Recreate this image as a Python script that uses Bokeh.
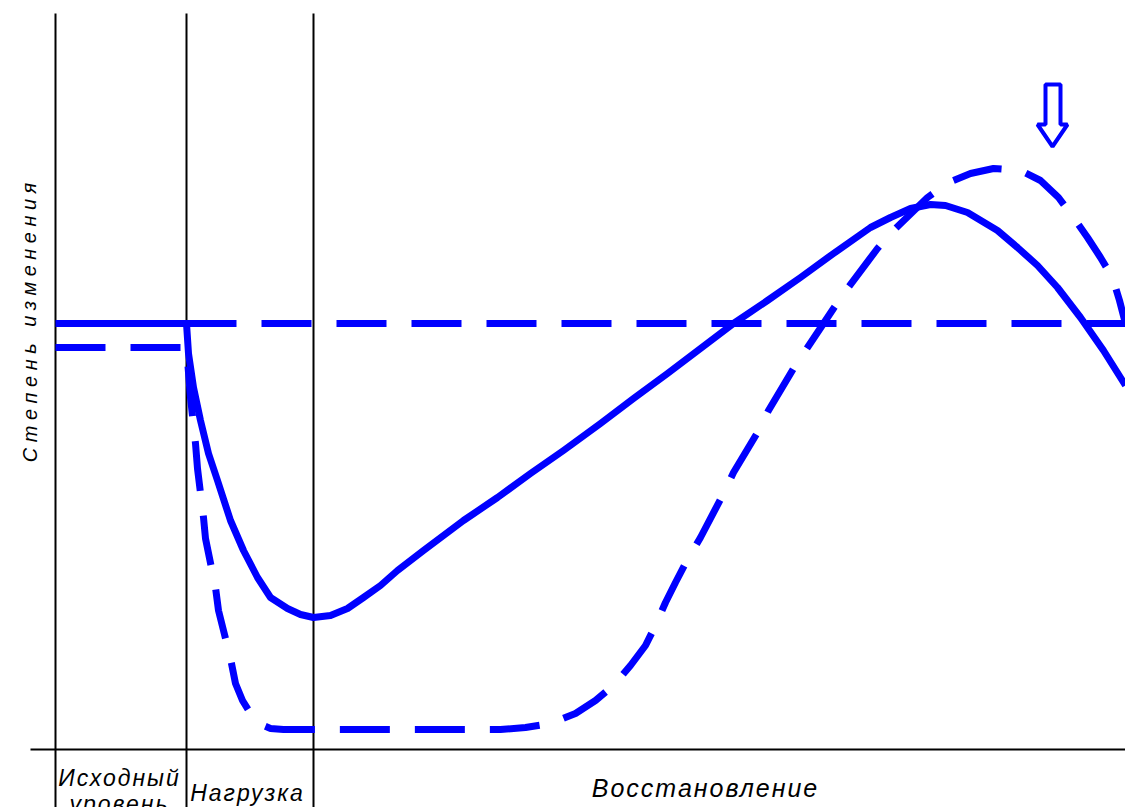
from bokeh.plotting import figure
from bokeh.layouts import row
from bokeh.models import Range1d
from bokeh.core.properties import value
from bokeh.embed import file_html
from bokeh.resources import INLINE

# ---- data (x in chart units, y = level above the time axis; rows) ----
phase_edges = [55, 186, 313]          # start of baseline, start of load, start of recovery
axis_level = 0
top_level = 736
ROW0 = 749                            # level 0 = time axis

base_solid = 426                      # initial level, solid curve

solid_x = [55, 186, 188, 193, 200, 208, 217, 230, 243, 257, 270, 287, 300, 313, 330, 347,
           363, 380, 397, 423, 463, 497, 530, 563, 600, 633, 667, 700, 733, 767, 800, 833,
           870, 890, 910, 930, 945, 967, 997, 1017, 1037, 1057, 1080, 1103, 1125]
solid_row = [323, 323, 353, 387, 420, 453, 480, 520, 550, 577, 597, 608, 614, 617, 615, 608,
             597, 585, 570, 550, 520, 497, 473, 450, 423, 398, 373, 348, 323, 300, 277, 253,
             227, 217, 208, 204, 205, 212, 230, 247, 265, 287, 317, 350, 385]

dashed_x = [55, 186, 188, 190, 195, 197, 203, 205, 215, 218, 223, 230, 235, 242, 250, 258,
            270, 283, 500, 525, 550, 575, 595, 613, 630, 645, 655, 665, 675, 687, 700, 722,
            733, 757, 768, 793, 807, 833, 847, 877, 893, 927, 948, 970, 993, 1020, 1040,
            1058, 1073, 1087, 1100, 1112, 1119, 1125]
dashed_row = [347, 347, 372, 397, 443, 468, 517, 538, 587, 610, 630, 658, 683, 700, 713, 723,
              728, 729, 729, 727, 723, 713, 700, 685, 665, 645, 625, 602, 582, 559, 537, 495,
              472, 432, 410, 368, 347, 308, 288, 248, 230, 197, 182, 173, 168, 170, 180,
              197, 217, 237, 257, 277, 300, 323]

solid_y = [ROW0 - r for r in solid_row]
dashed_y = [ROW0 - r for r in dashed_row]

arrow_x = [1045, 1060, 1060, 1067, 1052, 1037, 1045]
arrow_row = [84, 84, 124, 124, 146, 124, 124]
arrow_y = [ROW0 - r for r in arrow_row]

phase_labels = ["Исходный", "уровень", "Нагрузка", "Восстановление"]
y_label = "Степень изменения"

BLUE = "#0000FF"
STRIP = 46


def bare(fig):
    fig.axis.visible = False
    fig.grid.visible = False
    fig.outline_line_color = None


common = dict(height=807, output_backend="svg", toolbar_location=None,
              y_range=Range1d(-58, 749), min_border=0, min_border_left=0,
              min_border_right=0, min_border_top=0, min_border_bottom=0)

font = value("Liberation Sans")

# ---- main chart (full width) ----
p = figure(width=1125, x_range=Range1d(0, 1125), **common)
bare(p)
p.background_fill_color = "white"
p.border_fill_color = "white"
p.styles = {"letter-spacing": "2px"}

for xe in phase_edges:
    p.line([xe, xe], [-58, top_level], line_color="black", line_width=2)
p.line([30, 1125], [axis_level, axis_level], line_color="black", line_width=2)

p.line([186, 1125], [base_solid, base_solid], line_color=BLUE, line_width=7,
       line_dash="50 25")
p.line(dashed_x, dashed_y, line_color=BLUE, line_width=7, line_dash="50 25")
p.line(solid_x, solid_y, line_color=BLUE, line_width=7, line_join="round")

p.patch(arrow_x, arrow_y, fill_color=None, line_color=BLUE, line_width=4)

p.text(x=[111, 112], y=[-28, -54], text=phase_labels[:2], text_font=font,
       text_font_style="italic", text_font_size="23px", text_align="center",
       text_baseline="alphabetic", text_color="black")
p.text(x=[239], y=[-43], text=[phase_labels[2]], text_font=font,
       text_font_style="italic", text_font_size="23px", text_align="center",
       text_baseline="alphabetic", text_color="black")
p.text(x=[691], y=[-38], text=[phase_labels[3]], text_font=font,
       text_font_style="italic", text_font_size="25px", text_align="center",
       text_baseline="alphabetic", text_color="black")

# ---- transparent overlay strip carrying the widely spaced y label ----
left = figure(width=STRIP, x_range=Range1d(0, STRIP), **common)
bare(left)
left.background_fill_color = None
left.border_fill_color = None
left.styles = {"letter-spacing": "5.5px", "position": "absolute", "left": "0px",
               "top": "0px", "z-index": "5"}
left.text(x=[29], y=[383], text=[y_label], text_font=font, angle=1.5708,
          text_font_style="italic", text_font_size="20px", text_align="center",
          text_baseline="middle", text_color="black")

layout = row(p, left, spacing=0, width=1125, height=807, sizing_mode="fixed")
open("out.html", "w").write(file_html(layout, INLINE))
